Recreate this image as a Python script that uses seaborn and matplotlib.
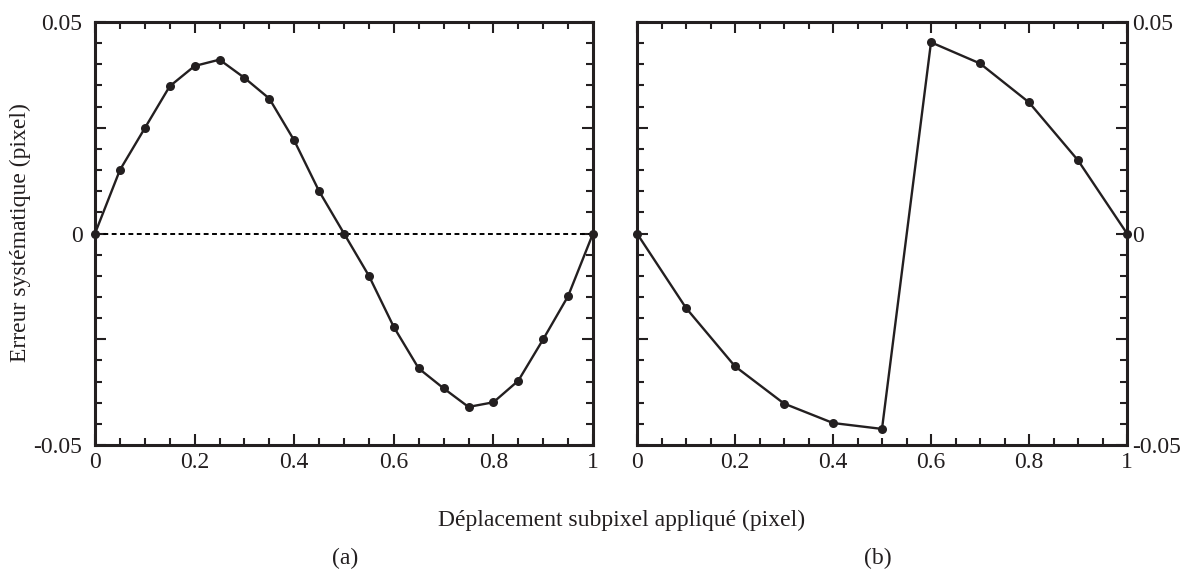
import numpy as np
import pandas as pd
import seaborn as sns
import matplotlib.pyplot as plt
from matplotlib.ticker import MultipleLocator

# data
x_a = [0, 0.05, 0.1, 0.15, 0.2, 0.25, 0.3, 0.35, 0.4, 0.45, 0.5,
       0.55, 0.6, 0.65, 0.7, 0.75, 0.8, 0.85, 0.9, 0.95, 1.0]
err_a = [0, 0.0150, 0.0249, 0.0348, 0.0396, 0.0411, 0.0368, 0.0319, 0.0220, 0.0100, 0,
         -0.0100, -0.0221, -0.0319, -0.0366, -0.0410, -0.0399, -0.0348, -0.0250, -0.0148, 0]
x_b = [0, 0.1, 0.2, 0.3, 0.4, 0.5, 0.6, 0.7, 0.8, 0.9, 1.0]
err_b = [0, -0.0176, -0.0314, -0.0402, -0.0448, -0.0462, 0.0452, 0.0402, 0.0310, 0.0173, 0]

x_ticks = [0, 0.2, 0.4, 0.6, 0.8, 1]
x_labels = ["0", "0.2", "0.4", "0.6", "0.8", "1"]
y_ticks = [-0.05, -0.025, 0, 0.025, 0.05]
y_labels = ["-0.05", "", "0", "", "0.05"]

sns.set_theme(style="ticks")
plt.rcParams['font.family'] = ['Liberation Serif', 'DejaVu Serif']
fs = 17
ink = "#231f20"

fig = plt.figure(figsize=(11.9, 5.74), dpi=100)
ax1 = fig.add_axes([95 / 1190, 1 - 445 / 574, 498 / 1190, 423 / 574])
ax2 = fig.add_axes([637 / 1190, 1 - 445 / 574, 490 / 1190, 423 / 574])

df_a = pd.DataFrame({"x": x_a, "err": err_a})
df_b = pd.DataFrame({"x": x_b, "err": err_b})

ax1.axhline(0, color="black", lw=1.4, ls=(0, (2.5, 1.8)), zorder=1)
sns.lineplot(data=df_a, x="x", y="err", ax=ax1, color=ink, lw=1.7,
             marker="o", markersize=6.5, markeredgewidth=0, estimator=None,
             clip_on=False, zorder=3)
sns.lineplot(data=df_b, x="x", y="err", ax=ax2, color=ink, lw=1.7,
             marker="o", markersize=6.5, markeredgewidth=0, estimator=None,
             clip_on=False, zorder=3)

for ax in (ax1, ax2):
    ax.set_xlim(0, 1)
    ax.set_ylim(-0.05, 0.05)
    ax.set_xlabel("")
    ax.set_ylabel("")
    ax.set_xticks(x_ticks)
    ax.set_xticklabels(x_labels)
    ax.set_yticks(y_ticks)
    ax.set_yticklabels(y_labels)
    ax.xaxis.set_minor_locator(MultipleLocator(0.05))
    ax.yaxis.set_minor_locator(MultipleLocator(0.005))
    ax.tick_params(which="both", direction="in", top=True, bottom=True,
                   left=True, right=True, width=1.5, color=ink,
                   labelsize=fs, labelcolor=ink)
    ax.tick_params(which="major", length=8)
    ax.tick_params(which="minor", length=5)
    ax.tick_params(axis="x", pad=5)
    for sp in ax.spines.values():
        sp.set_linewidth(2.2)
        sp.set_color(ink)

ax1.tick_params(axis="y", pad=9)
ax2.tick_params(axis="y", labelleft=False, labelright=True, pad=4)

fig.text(20 / 1190, 1 - 233 / 574, "Erreur systématique (pixel)", rotation=90,
         ha="center", va="center", fontsize=fs, color=ink)
fig.text(622 / 1190, 1 - 520 / 574, "Déplacement subpixel appliqué (pixel)",
         ha="center", va="center", fontsize=fs, color=ink)
fig.text(345 / 1190, 1 - 558 / 574, "(a)", ha="center", va="center",
         fontsize=fs, color=ink)
fig.text(878 / 1190, 1 - 558 / 574, "(b)", ha="center", va="center",
         fontsize=fs, color=ink)

fig.savefig("out.png", dpi=100, facecolor="white")
